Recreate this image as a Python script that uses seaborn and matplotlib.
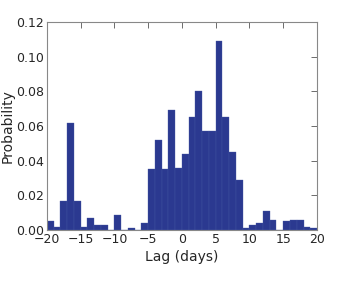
import numpy as np
import matplotlib
matplotlib.use("Agg")
import matplotlib.pyplot as plt
import seaborn as sns

# bin edges (1-day bins) and probability per bin
bin_edges = list(range(-20, 21))
lag_days = [e + 0.5 for e in bin_edges[:-1]]
probability = [
    0.005, 0.002, 0.017, 0.062, 0.017, 0.002, 0.007, 0.003, 0.003, 0.000,
    0.009, 0.000, 0.001, 0.000, 0.004, 0.035, 0.052, 0.035, 0.069, 0.036,
    0.044, 0.065, 0.080, 0.057, 0.057, 0.109, 0.065, 0.045, 0.029, 0.001,
    0.003, 0.004, 0.011, 0.006, 0.000, 0.005, 0.006, 0.006, 0.002, 0.001,
]
x_ticks = [-20, -15, -10, -5, 0, 5, 10, 15, 20]
y_ticks = [0.00, 0.02, 0.04, 0.06, 0.08, 0.10, 0.12]

sns.set_style("white")
plt.rcParams['font.family'] = ['DejaVu Sans']

fig = plt.figure(figsize=(3.55, 2.82), dpi=100)
ax = fig.add_axes([0.132, 0.184, 0.761, 0.738])

sns.histplot(x=lag_days, weights=probability, bins=bin_edges, ax=ax,
             color='#2b3990', alpha=1.0, edgecolor='#4657a3', linewidth=0.25)

ax.set_xlim(-20, 20)
ax.set_ylim(0, 0.12)
ax.set_xticks(x_ticks)
ax.set_yticks(y_ticks)
ax.set_yticklabels([f'{v:.2f}' for v in y_ticks])
ax.set_xticklabels([str(v).replace('-', '\u2212') for v in x_ticks])
ax.tick_params(direction='in', top=True, right=True, length=4, width=0.6,
               labelsize=9, color='#555555', pad=2)
for s in ax.spines.values():
    s.set_color('#888888')
    s.set_linewidth(0.8)
ax.set_xlabel('Lag (days)', fontsize=10, labelpad=3)
ax.set_ylabel('Probability', fontsize=10, labelpad=1)

fig.savefig('out.png', dpi=100)
